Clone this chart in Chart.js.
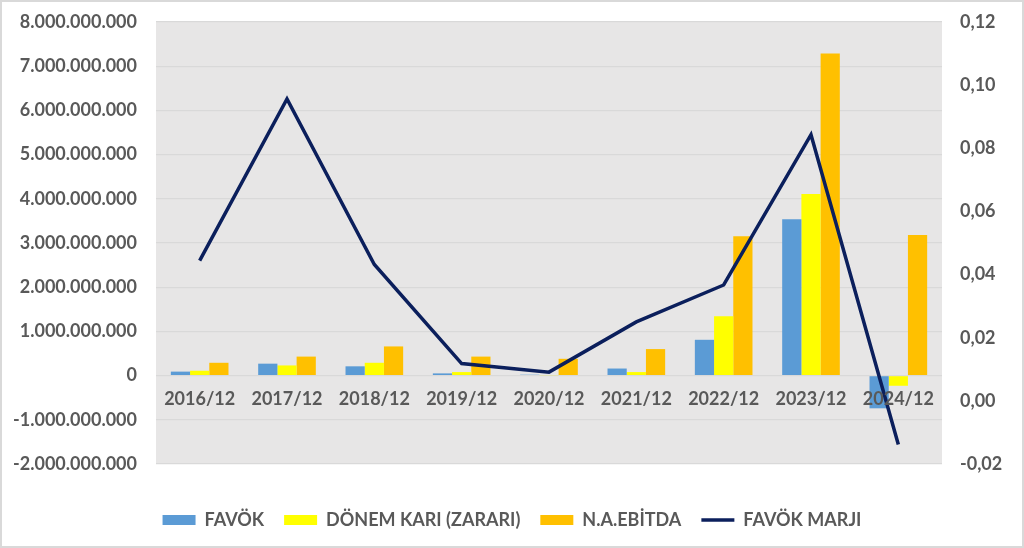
<!DOCTYPE html>
<html>
<head>
<meta charset="utf-8">
<script src="https://cdn.jsdelivr.net/npm/chart.js@4.4.1/dist/chart.umd.min.js"></script>
<style>
  html, body { margin: 0; padding: 0; background: #ffffff; }
  #wrap { position: relative; width: 1024px; height: 548px; }
  #frame { position: absolute; left: 0; top: 0; width: 1024px; height: 548px; box-sizing: border-box; border: 2px solid #d9d9d9; pointer-events: none; }
</style>
</head>
<body>
<div id="wrap">
  <canvas id="c"></canvas>
  <div id="frame"></div>
</div>
<script>
const categories = ['2016/12', '2017/12', '2018/12', '2019/12', '2020/12', '2021/12', '2022/12', '2023/12', '2024/12'];
const favok = [90000000, 270000000, 210000000, 50000000, 20000000, 160000000, 810000000, 3540000000, -740000000];
const donemKari = [110000000, 230000000, 290000000, 80000000, 10000000, 80000000, 1340000000, 4110000000, -230000000];
const naEbitda = [290000000, 430000000, 660000000, 430000000, 380000000, 600000000, 3150000000, 7290000000, 3180000000];
const favokMarji = [0.0444, 0.0956, 0.0432, 0.0118, 0.0091, 0.0250, 0.0367, 0.0843, -0.0138];
const seriesNames = ['FAVÖK', 'DÖNEM KARI (ZARARI)', 'N.A.EBİTDA', 'FAVÖK MARJI'];

const FONT = 'Lato, "Open Sans", sans-serif';
const TEXT = '#595959';

const plotBg = {
  id: 'plotBg',
  beforeDraw(chart) {
    const a = chart.chartArea, ctx = chart.ctx;
    ctx.save();
    ctx.fillStyle = '#e7e6e6';
    ctx.fillRect(a.left, a.top, a.right - a.left, a.bottom - a.top);
    ctx.restore();
  }
};

new Chart(document.getElementById('c'), {
  data: {
    labels: categories,
    datasets: [
      { type: 'bar', label: seriesNames[0], data: favok, backgroundColor: '#5b9bd5', yAxisID: 'y', order: 1, pointStyle: 'rect' },
      { type: 'bar', label: seriesNames[1], data: donemKari, backgroundColor: '#ffff00', yAxisID: 'y', order: 1, pointStyle: 'rect' },
      { type: 'bar', label: seriesNames[2], data: naEbitda, backgroundColor: '#ffc000', yAxisID: 'y', order: 1, pointStyle: 'rect' },
      { type: 'line', label: seriesNames[3], data: favokMarji, borderColor: '#0b1f5c', backgroundColor: '#0b1f5c', borderWidth: 3.5, pointRadius: 0, tension: 0, yAxisID: 'y1', order: 0, pointStyle: 'line' }
    ]
  },
  options: {
    responsive: true,
    maintainAspectRatio: false,
    animation: false,
    layout: { padding: { top: 22, bottom: 9, left: 0, right: 0 } },
    datasets: { bar: { categoryPercentage: 0.66, barPercentage: 1.0 } },
    scales: {
      x: {
        position: { y: 0 },
        grid: { display: false, drawTicks: false },
        border: { display: false },
        ticks: { z: 1, color: TEXT, font: { family: FONT, size: 18, weight: 'bold' }, padding: 13, maxRotation: 0, autoSkip: false }
      },
      y: {
        position: 'left',
        min: -2000000000, max: 8000000000,
        grid: { color: '#d9d9d9', lineWidth: 1.2, drawTicks: false },
        border: { display: false },
        afterFit(s) { s.width = 156; s.paddingTop = 0; s.paddingBottom = 0; },
        ticks: {
          stepSize: 1000000000, padding: 19, color: TEXT,
          font: { family: FONT, size: 18, weight: 'bold' },
          callback: v => Math.round(v).toString().replace(/\B(?=(\d{3})+(?!\d))/g, '.')
        }
      },
      y1: {
        position: 'right',
        min: -0.02, max: 0.12,
        grid: { display: false, drawTicks: false },
        border: { display: false },
        afterFit(s) { s.width = 82; s.paddingTop = 0; s.paddingBottom = 0; },
        ticks: {
          stepSize: 0.02, padding: 18, color: TEXT,
          font: { family: FONT, size: 18, weight: 'bold' },
          callback: v => (Math.round(v * 100) / 100).toFixed(2).replace('.', ',')
        }
      }
    },
    plugins: {
      tooltip: { enabled: false },
      legend: {
        position: 'bottom',
        title: { display: true, text: '', font: { size: 10 }, padding: { top: 15, bottom: 0 } },
        labels: {
          color: TEXT,
          font: { family: FONT, size: 18, weight: 'bold' },
          usePointStyle: true,
          pointStyleWidth: 33,
          boxWidth: 33,
          boxHeight: 10,
          padding: 20,
          sort: (a, b) => a.datasetIndex - b.datasetIndex
        }
      }
    }
  },
  plugins: [plotBg]
});
</script>
</body>
</html>
